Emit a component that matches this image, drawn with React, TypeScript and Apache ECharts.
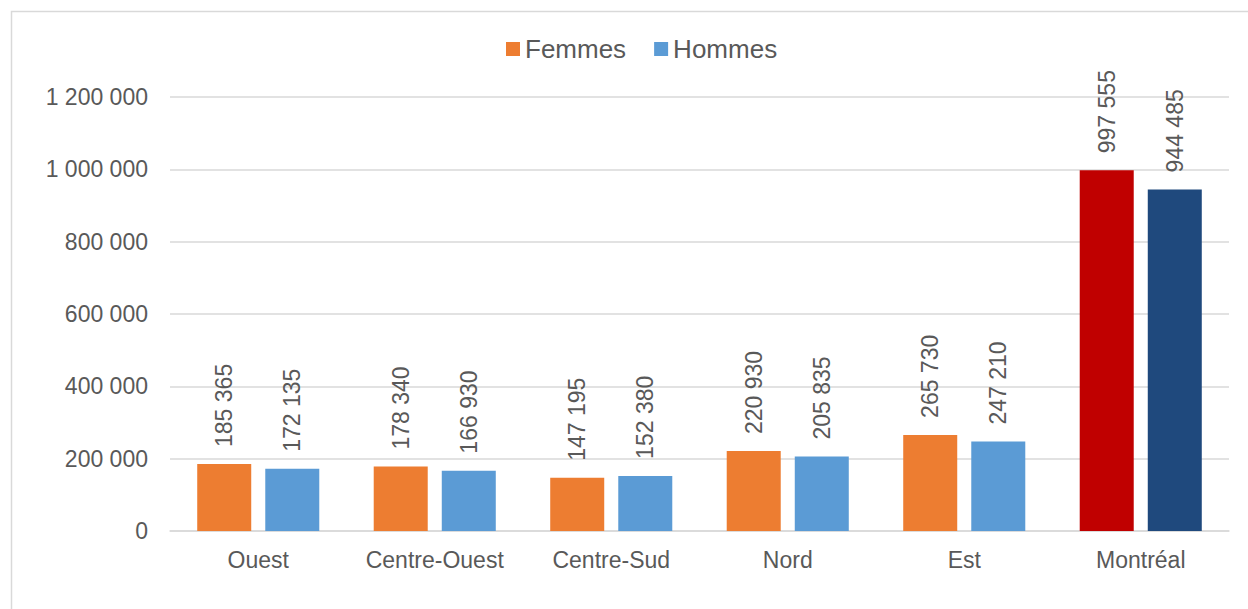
import React, { useEffect, useRef } from "react";
import * as echarts from "echarts";

const categories = ["Ouest", "Centre-Ouest", "Centre-Sud", "Nord", "Est", "Montréal"];
const femmes = [185365, 178340, 147195, 220930, 265730, 997555];
const hommes = [172135, 166930, 152380, 205835, 247210, 944485];
const yTicks = { min: 0, max: 1200000, interval: 200000 };

const FEMMES_COLOR = "#ED7D31";
const HOMMES_COLOR = "#5B9BD5";
const FEMMES_TOTAL_COLOR = "#C00000";
const HOMMES_TOTAL_COLOR = "#1F497D";
const TEXT = "#595959";
const GRID = "#D9D9D9";
const FONT = "'Liberation Sans', Arial, sans-serif";

const fmt = (v: number) => String(Math.round(v)).replace(/\B(?=(\d{3})+(?!\d))/g, " ");

export default function App() {
  const ref = useRef<HTMLDivElement>(null);
  useEffect(() => {
    if (!ref.current) return;
    const chart = echarts.init(ref.current, undefined, { renderer: "svg" });
    const label = {
      show: true,
      position: "top",
      rotate: 90,
      align: "left",
      verticalAlign: "middle",
      distance: 17,
      color: TEXT,
      fontSize: 23,
      fontFamily: FONT,
      formatter: (p: any) => fmt(p.value),
    };
    const n = categories.length;
    chart.setOption({
      animation: false,
      textStyle: { fontFamily: FONT },
      graphic: [
        {
          type: "rect",
          shape: { x: 11.5, y: 11.5, width: 1245, height: 620 },
          style: { fill: "none", stroke: GRID, lineWidth: 1.5 },
          silent: true,
          z: -1,
        },
      ],
      legend: {
        top: 31,
        left: 501,
        icon: "rect",
        itemWidth: 14,
        itemHeight: 14,
        itemGap: 28,
        itemTextGap: 7,
        textStyle: { color: TEXT, fontSize: 26, fontFamily: FONT },
        data: ["Femmes", "Hommes"],
      },
      grid: { left: 170, right: 19, top: 97, bottom: 78, containLabel: false },
      xAxis: {
        type: "category",
        data: categories,
        axisLine: { show: true, lineStyle: { color: GRID, width: 1.5 } },
        axisTick: { show: false },
        axisLabel: { color: TEXT, fontSize: 23, fontFamily: FONT, margin: 17, interval: 0 },
      },
      yAxis: {
        type: "value",
        min: yTicks.min,
        max: yTicks.max,
        interval: yTicks.interval,
        axisLine: { show: false },
        axisTick: { show: false },
        splitLine: { lineStyle: { color: GRID, width: 1.5 } },
        axisLabel: { color: TEXT, fontSize: 23, fontFamily: FONT, margin: 22, formatter: fmt },
      },
      series: [
        {
          name: "Femmes",
          type: "bar",
          barWidth: "30.6%",
          barGap: "26%",
          itemStyle: { color: FEMMES_COLOR },
          label,
          data: femmes.map((v, i) =>
            i === n - 1 ? { value: v, itemStyle: { color: FEMMES_TOTAL_COLOR } } : v
          ),
        },
        {
          name: "Hommes",
          type: "bar",
          barWidth: "30.6%",
          itemStyle: { color: HOMMES_COLOR },
          label,
          data: hommes.map((v, i) =>
            i === n - 1 ? { value: v, itemStyle: { color: HOMMES_TOTAL_COLOR } } : v
          ),
        },
      ],
    });
    return () => chart.dispose();
  }, []);
  return (
    <div
      ref={ref}
      style={{ position: "absolute", left: 0, top: 0, width: 1248, height: 609, background: "#fff" }}
    />
  );
}
